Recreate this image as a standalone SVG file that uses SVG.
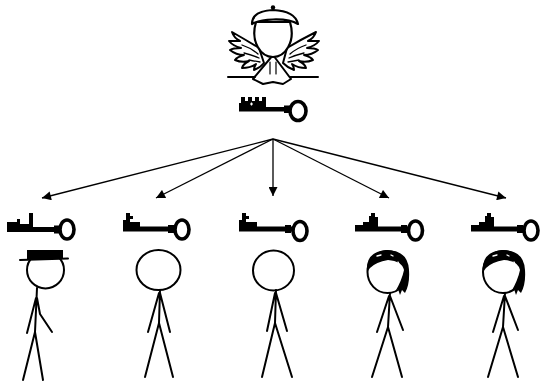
<svg xmlns="http://www.w3.org/2000/svg" width="542" height="382" viewBox="0 0 542 382">
  <style>
    .ln { fill: none; stroke: #000; stroke-width: 2; stroke-linecap: round; stroke-linejoin: round; }
    .wing { fill: #fff; stroke: #000; stroke-width: 2; stroke-linejoin: round; stroke-linecap: round; }
    .ring { fill: none; stroke: #000; stroke-width: 3.6; }
    .solid { fill: #000; stroke: none; }
    .arrow { fill: none; stroke: #000; stroke-width: 1.3; marker-end: url(#head); }
  </style>
  <defs>
    <marker id="head" viewBox="0 0 10 10" refX="10" refY="5" markerWidth="10" markerHeight="9" markerUnits="userSpaceOnUse" orient="auto">
      <path d="M0,0 L10,5 L0,10 Z" fill="#000"/>
    </marker>
  </defs>

  <!-- winged keeper at the top -->
  <g id="angel">
    <!-- left wing -->
    <path class="wing" d="M259 48 Q246 40 232 32 Q234 38 240 41 Q232 41 229 41 Q233 46 241 48 Q233 48 230 50 Q236 55 244 55 Q237 57 235 60 Q242 63 249 61 Q243 64 242 68 Q250 68 256 64 Q254 67 254 70 Q260 68 264 63 Z"/>
    <path class="ln" d="M242 45 Q251 48 258 54 M244 53 Q252 55 259 58 M249 60 Q254 61 260 62" style="stroke-width:1.3"/>
    <!-- right wing -->
    <path class="wing" d="M287 48 Q300 40 316 32 Q314 38 308 41 Q316 41 319 41 Q315 46 307 48 Q315 48 318 50 Q312 55 304 55 Q311 57 313 60 Q306 63 299 61 Q305 64 306 68 Q298 68 292 64 Q294 67 294 70 Q288 68 283 63 Z"/>
    <path class="ln" d="M306 45 Q297 48 290 54 M304 53 Q296 55 289 58 M299 60 Q294 61 288 62" style="stroke-width:1.3"/>
    <!-- robe -->
    <path class="ln" d="M273 55 L253 79 L263 84 L273 82 L283 84 L291 79 Z" fill="#fff"/>
    <path class="ln" d="M270 62 L270 74 M276 62 L276 74" style="stroke-width:1.2"/>
    <!-- head and cap -->
    <path d="M256 22 C250 42 261 57 273 57 C285 57 296 42 290 22 Z" fill="#fff" stroke="#000" stroke-width="2.2" stroke-linejoin="round"/>
    <path d="M252 24 Q252 11 273 10 Q295 11 298 24 Q290 19 273 19.5 Q259 20 252 24 Z" fill="#fff" stroke="#000" stroke-width="2.2" stroke-linejoin="round"/>
    <circle cx="273" cy="7.5" r="2.2" fill="#000"/>
    <!-- horizon line -->
    <path class="ln" d="M228 77 L255 77 M290 77 L318 77"/>
  </g>

  <!-- master key -->
  <g id="key-master">
    <rect class="solid" x="239" y="107" width="52" height="4.5"/>
    <rect class="solid" x="284" y="105.5" width="6" height="7.5"/>
    <path class="solid" d="M239 103 L241 103 L241 97 L245 97 L245 101 L248 101 L248 97 L252 97 L252 101 L255 101 L255 97 L259 97 L259 101 L262 101 L262 97 L266 97 L266 108 L239 108 Z"/>
    <path d="M250 104 L253 104 M251.5 102.5 L251.5 105.5" stroke="#fff" stroke-width="1.2"/>
    <ellipse class="ring" cx="298" cy="111" rx="8" ry="9.5"/>
  </g>

  <!-- connectors -->
  <g id="connectors">
    <path class="arrow" d="M273 139 L42 198"/>
    <path class="arrow" d="M273 139 L156 198"/>
    <path class="arrow" d="M273 139 L273 196"/>
    <path class="arrow" d="M273 139 L389 198"/>
    <path class="arrow" d="M273 139 L506 198"/>
  </g>

  <!-- person 1: hat -->
  <g id="person-1">
    <rect class="solid" x="7" y="227" width="54" height="5"/>
    <rect class="solid" x="54" y="225.5" width="6" height="8"/>
    <path class="solid" d="M7 222 L17 222 L17 219 L20 219 L20 224 L29 224 L29 213 L33 213 L33 228 L7 228 Z"/>
    <ellipse class="ring" cx="67" cy="229.5" rx="7" ry="9.5"/>
    <circle cx="45.5" cy="270" r="18.5" fill="none" stroke="#000" stroke-width="2"/>
    <rect class="solid" x="27" y="250" width="36" height="9"/>
    <path class="ln" d="M20 260 L68 258.5"/>
    <path class="ln" d="M37 288 L35 332 L23 380 M35 332 L43 380 M36 298 L27 333 M37 298 L40 314 L52 332"/>
  </g>

  <!-- person 2 -->
  <g id="person-2">
    <rect class="solid" x="123" y="226.5" width="53" height="5"/>
    <rect class="solid" x="168" y="225" width="6" height="8"/>
    <path class="solid" d="M123 220 L126 220 L126 213 L130 213 L130 216 L133 216 L133 219 L130 219 L130 222 L140 222 L140 228 L123 228 Z"/>
    <ellipse class="ring" cx="182" cy="229.5" rx="7" ry="9.5"/>
    <ellipse cx="158.5" cy="270" rx="22" ry="20" fill="none" stroke="#000" stroke-width="2"/>
    <path class="ln" d="M160 290 L159 323 L145 377 M159 323 L173 377 M159 293 L148 332 M160 293 L170 332"/>
  </g>

  <!-- person 3 -->
  <g id="person-3">
    <rect class="solid" x="239" y="226.5" width="54" height="5"/>
    <rect class="solid" x="285" y="225" width="6" height="8"/>
    <path class="solid" d="M239 220 L242 220 L242 213 L246 213 L246 216 L249 216 L249 219 L246 219 L246 222 L257 222 L257 228 L239 228 Z"/>
    <ellipse class="ring" cx="300" cy="231" rx="7" ry="9.5"/>
    <ellipse cx="273.5" cy="270.5" rx="20.5" ry="20" fill="none" stroke="#000" stroke-width="2"/>
    <path class="ln" d="M276 290 L275 323 L262 377 M275 323 L292 377 M275 293 L267 331 M276 293 L287 331"/>
  </g>

  <!-- person 4: hair -->
  <g id="person-4">
    <rect class="solid" x="355" y="226.5" width="54" height="5"/>
    <rect class="solid" x="401" y="225" width="6" height="8"/>
    <path class="solid" d="M355 225 L363 225 L363 222 L369 222 L369 216 L371 216 L371 213 L375 213 L375 217 L378 217 L378 228 L355 228 Z"/>
    <ellipse class="ring" cx="415.5" cy="230.5" rx="7" ry="9.5"/>
    <ellipse cx="387.5" cy="272" rx="20" ry="21" fill="none" stroke="#000" stroke-width="2"/>
    <path class="solid" d="M367 272 Q365 252 386 250 Q408 250 409 270 Q410 284 405 293 L402 290 L400 295 L398 289 L395 292 Q402 280 404 270 Q402 261 388 260 Q376 262 370 268 Z"/>
    <path d="M377 256 L381 255 M391 255 L393 256 M398 262 L399 264" stroke="#fff" stroke-width="1.3" stroke-linecap="round"/>
    <path class="ln" d="M390 293 L388 327 L372 377 M388 327 L402 377 M389 296 L377 332 M390 296 L403 330"/>
  </g>

  <!-- person 5: hair -->
  <g id="person-5">
    <rect class="solid" x="471" y="226.5" width="54" height="5"/>
    <rect class="solid" x="517" y="225" width="6" height="8"/>
    <path class="solid" d="M471 225 L479 225 L479 222 L485 222 L485 216 L487 216 L487 213 L491 213 L491 217 L494 217 L494 228 L471 228 Z"/>
    <ellipse class="ring" cx="531" cy="230.5" rx="7" ry="9.5"/>
    <ellipse cx="503" cy="272" rx="20" ry="21" fill="none" stroke="#000" stroke-width="2"/>
    <path class="solid" d="M483 272 Q481 252 502 250 Q524 250 525 270 Q526 284 521 293 L518 290 L516 295 L514 289 L511 292 Q518 280 520 270 Q518 261 504 260 Q492 262 486 268 Z"/>
    <path d="M493 256 L497 255 M507 255 L509 256 M514 262 L515 264" stroke="#fff" stroke-width="1.3" stroke-linecap="round"/>
    <path class="ln" d="M505 293 L503 327 L488 377 M503 327 L518 377 M504 296 L493 332 M505 296 L518 330"/>
  </g>
</svg>
